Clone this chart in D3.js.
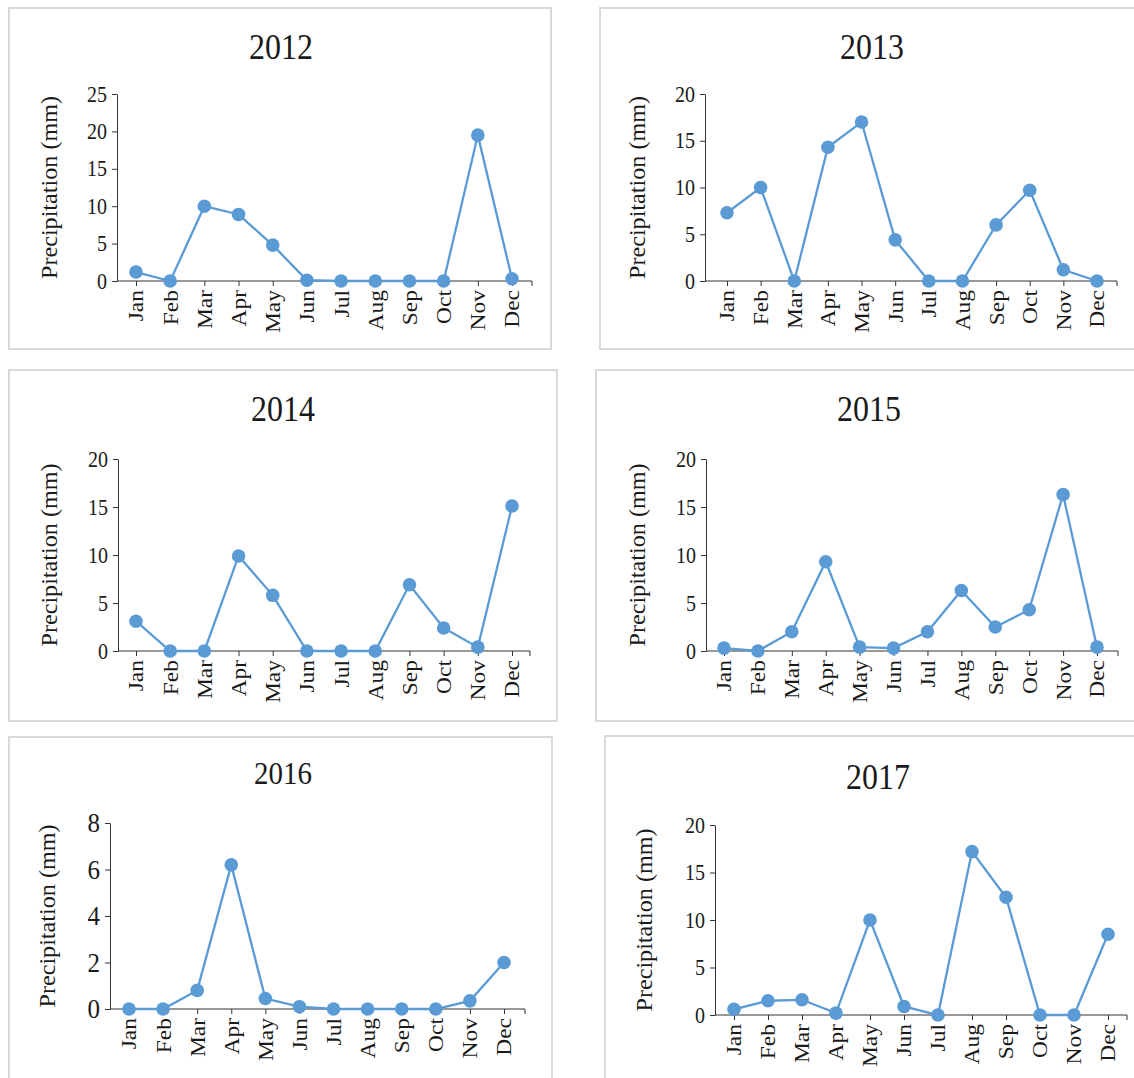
<!DOCTYPE html>
<html>
<head>
<meta charset="utf-8">
<script src="https://cdn.jsdelivr.net/npm/d3@7"></script>
<style>
  body { margin: 0; background: #fff; }
  svg { display: block; }
  svg text { font-family: "Liberation Serif", "Times New Roman", Times, "DejaVu Serif", serif; fill: #1a1a1a; }
</style>
</head>
<body>
<svg id="chart" width="1134" height="1078"></svg>
<script>
// データ ---------------------------------------------------------------------------------
const months = ['Jan', 'Feb', 'Mar', 'Apr', 'May', 'Jun', 'Jul', 'Aug', 'Sep', 'Oct', 'Nov', 'Dec'];
const years = ['2012', '2013', '2014', '2015', '2016', '2017'];
const p2012 = [1.2, 0, 10, 8.9, 4.8, 0.1, 0, 0, 0, 0, 19.5, 0.3];
const p2013 = [7.3, 10, 0, 14.3, 17, 4.4, 0, 0, 6, 9.7, 1.2, 0];
const p2014 = [3.1, 0, 0, 9.9, 5.8, 0, 0, 0, 6.9, 2.4, 0.4, 15.1];
const p2015 = [0.3, 0, 2.0, 9.3, 0.4, 0.3, 2.0, 6.3, 2.5, 4.3, 16.3, 0.4];
const p2016 = [0, 0, 0.8, 6.2, 0.45, 0.1, 0, 0, 0, 0, 0.35, 2.0];
const p2017 = [0.6, 1.5, 1.6, 0.2, 10, 0.9, 0, 17.2, 12.4, 0, 0, 8.5];
const yMax = [25, 20, 20, 20, 8, 20];
const yStep = [5, 5, 5, 5, 2, 5];
const series = [p2012, p2013, p2014, p2015, p2016, p2017];

// パネル配置 --------------------------------------------------------------------------------
const panels = [
  { box: [9, 8, 542, 341], ax: 117, top: 94, zero: 281, first: 136, last: 512, end: 532, tx: 281, ty: 59, lx: 57 },
  { box: [600, 8, 540, 341], ax: 705, top: 94, zero: 281, first: 727, last: 1097, end: 1117, tx: 872, ty: 59, lx: 645 },
  { box: [9, 370, 548, 351], ax: 118, top: 459, zero: 651, first: 136, last: 512, end: 530, tx: 283, ty: 421, lx: 57 },
  { box: [596, 370, 544, 351], ax: 706, top: 459, zero: 651, first: 724, last: 1097, end: 1118, tx: 869, ty: 421, lx: 645 },
  { box: [9, 737, 543, 350], ax: 110, top: 823, zero: 1009, first: 129, last: 504, end: 525, tx: 283, ty: 784, lx: 55 },
  { box: [605, 736, 540, 350], ax: 715, top: 825, zero: 1015, first: 734, last: 1108, end: 1127, tx: 878, ty: 789, lx: 652 }
];
const color = '#5b9bd5';
const stretch = 1.12; // 元画像は縦方向に少し伸びている

const svg = d3.select('#chart');

panels.forEach((p, i) => {
  const g = svg.append('g');
  // 枠
  g.append('rect')
  .attr('x', p.box[0]).attr('y', p.box[1])
  .attr('width', p.box[2]).attr('height', p.box[3])
  .attr('fill', '#fff')
  .attr('stroke', '#d9d9d9')
  .attr('stroke-width', 2);
  // タイトル
  g.append('text')
  .attr('transform', 'translate(' + p.tx + ',' + p.ty + ') scale(1,' + stretch + ')')
  .attr('text-anchor', 'middle')
  .attr('font-size', i === 4 ? '29px' : '32px')
  .text(years[i]);
  // スケール
  const xScale = d3.scalePoint().domain(months).range([p.first, p.last]);
  const yScale = d3.scaleLinear().domain([0, yMax[i]]).range([p.zero, p.top]);
  // y軸
  const yAxis = g.append('g')
  .attr('transform', 'translate(' + p.ax + ',0)')
  .call(d3.axisLeft(yScale).tickValues(d3.range(0, yMax[i] + 0.001, yStep[i])).tickSize(5).tickSizeOuter(0));
  yAxis.selectAll('text')
  .attr('font-size', i === 4 ? '25px' : '20px')
  .attr('dx', '-2px')
  .attr('fill', '#1a1a1a')
  .attr('transform', 'scale(1,' + stretch + ')');
  yAxis.selectAll('line, path').attr('stroke', '#333');
  // x軸
  const xAxis = g.append('g')
  .attr('transform', 'translate(0,' + p.zero + ')')
  .call(d3.axisBottom(xScale).tickSize(5).tickSizeOuter(0));
  xAxis.select('.domain').remove();
  xAxis.append('line')
  .attr('x1', p.ax).attr('x2', p.end)
  .attr('stroke', '#333');
  xAxis.append('line')
  .attr('x1', p.end).attr('x2', p.end).attr('y2', 5)
  .attr('stroke', '#333');
  xAxis.selectAll('.tick line').attr('stroke', '#333');
  xAxis.selectAll('.tick text')
  .attr('font-size', '21px')
  .attr('fill', '#1a1a1a')
  .attr('transform', 'rotate(-90) scale(' + stretch + ',1)')
  .attr('text-anchor', 'end')
  .attr('x', -8)
  .attr('y', 0)
  .attr('dy', '0.33em');
  // 軸ラベル
  g.append('text')
  .attr('transform', 'translate(' + p.lx + ',' + ((p.top + p.zero) / 2) + ') rotate(-90) scale(1.05,1)')
  .attr('text-anchor', 'middle')
  .attr('font-size', '23px')
  .text('Precipitation (mm)');
  // 折れ線
  g.append('path')
  .datum(series[i])
  .attr('fill', 'none')
  .attr('stroke', color)
  .attr('stroke-width', 2.3)
  .attr('d', d3.line().x((d, j) => xScale(months[j])).y(d => yScale(d)));
  g.selectAll('.dot')
  .data(series[i])
  .enter()
  .append('circle')
  .attr('cx', (d, j) => xScale(months[j]))
  .attr('cy', d => yScale(d))
  .attr('r', 6.8)
  .attr('fill', color);
});
</script>
</body>
</html>
